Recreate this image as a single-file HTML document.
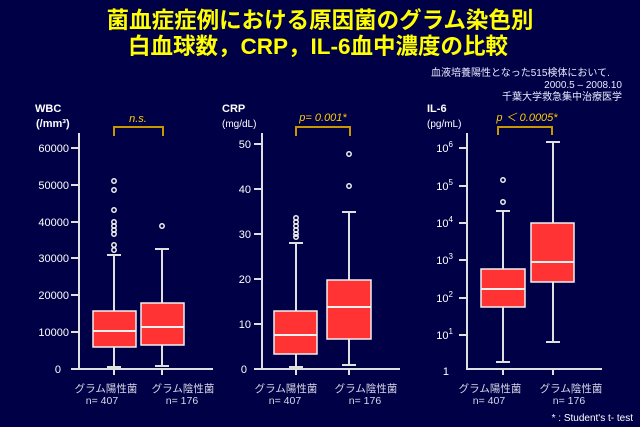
<!DOCTYPE html>
<html><head><meta charset="utf-8"><style>
html,body{margin:0;padding:0;background:#000046;}
svg{display:block}
text{font-family:"Liberation Sans","Noto Sans CJK JP",sans-serif;}
</style></head><body>
<svg width="640" height="427" viewBox="0 0 640 427" xmlns="http://www.w3.org/2000/svg">
<rect width="640" height="427" fill="#000046"/>
<g fill="#ffff00" font-size="22.5" font-weight="bold" text-anchor="middle">
<text x="320" y="28" font-family="'Noto Sans CJK JP',sans-serif">菌血症症例における原因菌のグラム染色別</text>
<text x="318" y="54" font-family="'Noto Sans CJK JP',sans-serif">白血球数，CRP，IL-6血中濃度の比較</text>
</g>
<g fill="#e8e8ff" font-size="10">
<text x="431" y="76" font-family="'Noto Sans CJK JP',sans-serif">血液培養陽性となった515検体において.</text>
<text x="622" y="88" text-anchor="end" font-family="'Liberation Serif',serif">2000.5 – 2008.10</text>
<text x="622" y="100" text-anchor="end" font-family="'Noto Sans CJK JP',sans-serif">千葉大学救急集中治療医学</text>
<text x="633" y="421" text-anchor="end" fill="#fff">* : Student's t- test</text>
</g>
<g stroke="#e0e0e0" stroke-width="2" fill="none">
<polyline points="79,133 79,369 213,369"/>
<path d="M71,148H79M71,185H79M71,222H79M71,258H79M71,295H79M71,332H79M71,369H79M114,369V375M162,369V375"/>
<path d="M114,255V311M114,347V367M107,255H121M107,367H121M162,249V303M162,345V366M155,249H169M155,366H169"/>
<polyline points="262,133 262,369 400,369"/>
<path d="M254,144H262M254,189H262M254,234H262M254,279H262M254,324H262M254,369H262M296,369V375M349,369V375"/>
<path d="M296,243V311M296,354V367M289,243H303M289,367H303M349,212V280M349,339V365M342,212H356M342,365H356"/>
<polyline points="467,133 467,369 602,369"/>
<path d="M459,148H467M459,186H467M459,223H467M459,260H467M459,298H467M459,335H467M503,369V375M553,369V375"/>
<path d="M503,211V269M503,307V362M496,211H510M496,362H510M553,142V223M553,282V342M546,142H560M546,342H560"/>
</g>
<g fill="#ff3333" stroke="#f0f0f0" stroke-width="1.5">
<rect x="93" y="311" width="43" height="36"/><rect x="141" y="303" width="43" height="42"/>
<rect x="274" y="311" width="43" height="43"/><rect x="327" y="280" width="44" height="59"/>
<rect x="481" y="269" width="44" height="38"/><rect x="531" y="223" width="43" height="59"/>
</g>
<g stroke="#f0f0f0" stroke-width="2">
<path d="M93,331H136M141,327H184M274,335H317M327,307H371M481,289H525M531,262H574"/>
</g>
<g fill="none" stroke="#f0f0f0" stroke-width="1.5">
<circle cx="114" cy="181" r="2.2"/><circle cx="114" cy="190" r="2.2"/><circle cx="114" cy="210" r="2.2"/>
<circle cx="114" cy="222" r="2.2"/><circle cx="114" cy="226" r="2.2"/><circle cx="114" cy="230" r="2.2"/><circle cx="114" cy="234" r="2.2"/>
<circle cx="114" cy="245" r="2.2"/><circle cx="114" cy="250" r="2.2"/><circle cx="162" cy="226" r="2.2"/>
<circle cx="296" cy="218" r="2.2"/><circle cx="296" cy="222" r="2.2"/><circle cx="296" cy="226" r="2.2"/><circle cx="296" cy="230" r="2.2"/><circle cx="296" cy="234" r="2.2"/><circle cx="296" cy="237" r="2.2"/>
<circle cx="349" cy="154" r="2.2"/><circle cx="349" cy="186" r="2.2"/>
<circle cx="503" cy="180" r="2.2"/><circle cx="503" cy="202" r="2.2"/>
</g>
<g fill="none" stroke="#c89600" stroke-width="2">
<path d="M114,136V127H163V136M296,136V127H350V136M498,135V127H552V135"/>
</g>
<g fill="#ffcc00" font-size="11" font-style="italic" text-anchor="middle">
<text x="138" y="122">n.s.</text>
<text x="323" y="121">p= 0.001*</text>
<text x="527" y="121">p ＜ 0.0005*</text>
</g>
<g fill="#fff" font-size="11" font-weight="bold">
<text x="35" y="112">WBC</text><text x="36" y="127">(/mm³)</text>
<text x="222" y="112">CRP</text><text x="222" y="127" font-weight="normal" font-size="10">(mg/dL)</text>
<text x="427" y="112">IL-6</text><text x="427" y="127" font-weight="normal" font-size="10">(pg/mL)</text>
</g>
<g fill="#fff" font-size="11" text-anchor="end">
<text x="69" y="152">60000</text><text x="69" y="189">50000</text><text x="69" y="226">40000</text><text x="69" y="262">30000</text><text x="69" y="299">20000</text><text x="69" y="336">10000</text><text x="61" y="373">0</text>
<text x="251" y="148">50</text><text x="251" y="193">40</text><text x="251" y="238">30</text><text x="251" y="283">20</text><text x="251" y="328">10</text><text x="247" y="373">0</text>
<text x="453" y="152">10<tspan dy="-5" font-size="8">6</tspan></text>
<text x="453" y="190">10<tspan dy="-5" font-size="8">5</tspan></text>
<text x="453" y="227">10<tspan dy="-5" font-size="8">4</tspan></text>
<text x="453" y="264">10<tspan dy="-5" font-size="8">3</tspan></text>
<text x="453" y="302">10<tspan dy="-5" font-size="8">2</tspan></text>
<text x="453" y="339">10<tspan dy="-5" font-size="8">1</tspan></text>
<text x="449" y="375">1</text>
</g>
<g fill="#d8d8e8" font-size="10.5" text-anchor="middle">
<text x="106" y="392" font-family="'Noto Sans CJK JP',sans-serif">グラム陽性菌</text><text x="102" y="404">n= 407</text>
<text x="183" y="392" font-family="'Noto Sans CJK JP',sans-serif">グラム陰性菌</text><text x="182" y="404">n= 176</text>
<text x="286" y="392" font-family="'Noto Sans CJK JP',sans-serif">グラム陽性菌</text><text x="285" y="404">n= 407</text>
<text x="366" y="392" font-family="'Noto Sans CJK JP',sans-serif">グラム陰性菌</text><text x="365" y="404">n= 176</text>
<text x="490" y="392" font-family="'Noto Sans CJK JP',sans-serif">グラム陽性菌</text><text x="489" y="404">n= 407</text>
<text x="571" y="392" font-family="'Noto Sans CJK JP',sans-serif">グラム陰性菌</text><text x="569" y="404">n= 176</text>
</g>
</svg>
</body></html>
